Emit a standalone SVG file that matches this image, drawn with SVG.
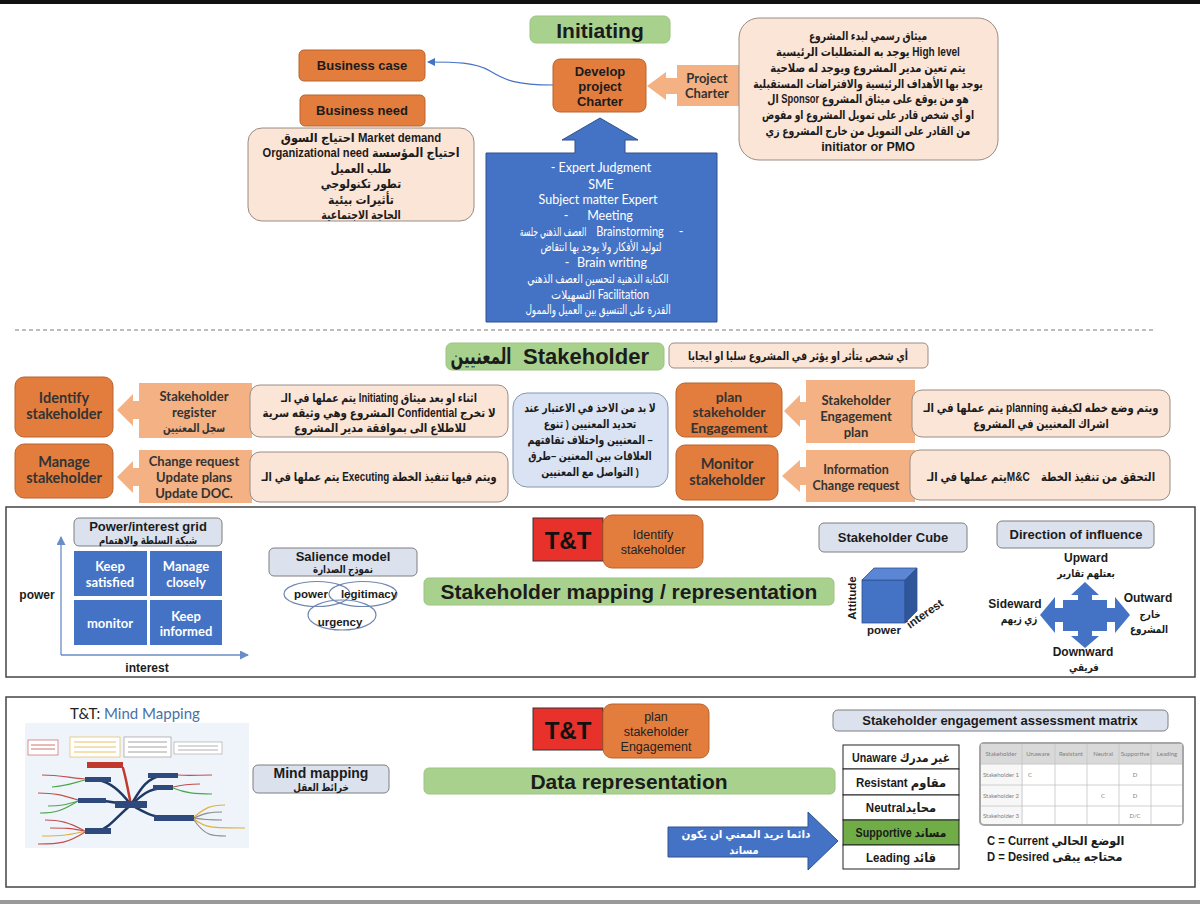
<svg xmlns="http://www.w3.org/2000/svg" width="1200" height="904" viewBox="0 0 1200 904">
<defs>
<style>
.a{font-family:"Liberation Sans","DejaVu Sans",sans-serif;font-weight:bold;text-anchor:middle;fill:#1b1b1b}
.l{font-family:Lato,"Liberation Sans","DejaVu Sans",sans-serif;font-weight:bold;text-anchor:middle;fill:#333}
.n{font-family:"Liberation Sans","DejaVu Sans",sans-serif;text-anchor:middle;fill:#222}
.wt{font-family:Lato,"Liberation Sans","DejaVu Sans",sans-serif;text-anchor:middle;fill:#fff;font-size:12.5px}
.or{fill:#E27D3E;stroke:#B9642C;stroke-width:1}
.pe{fill:#FBE5D6;stroke:#9A8C84;stroke-width:1}
.co{fill:#F4B183}
.gr{fill:#A9D18E;stroke:#9CC483;stroke-width:1}
.hd{fill:#DCE1EE;stroke:#7F7F7F;stroke-width:1}
.bl{fill:#4472C4;stroke:#2F528F;stroke-width:1}
.cell{fill:#4472C4}
.frame{fill:none;stroke:#444;stroke-width:1.5}
.red{fill:#E8312B;stroke:#333;stroke-width:1}
.ell{fill:none;stroke:#6F87B0;stroke-width:1.2}
.tb{font-family:Lato,"Liberation Sans",sans-serif;font-size:6px;fill:#7F7F7F;text-anchor:middle}
.mm{fill:none;stroke-width:2.5;stroke-linecap:round}
</style>
<marker id="ah" markerWidth="8" markerHeight="8" refX="7" refY="4" orient="auto" markerUnits="userSpaceOnUse">
<path d="M0,0 L8,4 L0,8 Z" fill="#4472C4"/>
</marker>
<marker id="ax" markerWidth="9" markerHeight="9" refX="8" refY="4.5" orient="auto" markerUnits="userSpaceOnUse">
<path d="M0,0 L9,4.5 L0,9 Z" fill="#6A8CC7"/>
</marker>
</defs>
<rect x="0" y="0" width="1200" height="904" fill="#fff"/>
<rect x="0" y="0" width="1200" height="4" fill="#111"/>

<!-- ===== Initiating section ===== -->
<g id="initiating">
<rect x="530" y="16" width="140" height="27" rx="6" class="gr"/>
<text x="600" y="38" class="a" font-size="21">Initiating</text>
</g>
<g id="business-case">
<rect x="299" y="50" width="126" height="31" rx="5" class="or"/>
<text x="362" y="70" class="a" font-size="13">Business case</text>
</g>
<g id="business-need">
<rect x="300" y="95" width="125" height="31" rx="5" class="or"/>
<text x="362" y="115" class="a" font-size="13">Business need</text>
</g>
<g id="business-need-details">
<rect x="248" y="128" width="226" height="93" rx="14" class="pe"/>
<g class="a" font-size="12.5">
<text transform="translate(361,142) scale(0.91,1)">احتياج السوق  Market demand</text>
<text transform="translate(361,157) scale(0.89,1)">Organizational need احتياج المؤسسة</text>
<text transform="translate(361,173) scale(0.82,1)">طلب العميل</text>
<text transform="translate(361,188) scale(0.85,1)">تطور تكنولوجي</text>
<text transform="translate(361,204) scale(0.88,1)">تأثيرات بيئية</text>
<text transform="translate(361,219) scale(0.76,1)">الحاجة الاجتماعية</text>
</g>
</g>
<g id="develop-charter">
<rect x="553" y="59" width="93" height="53" rx="7" class="or"/>
<g class="a" font-size="13">
<text x="600" y="76">Develop</text>
<text x="600" y="91">project</text>
<text x="600" y="106">Charter</text>
</g>
</g>
<g id="project-charter">
<path d="M745,65 H677 V78 H666 V72 L647,86 L666,100 V94 H677 V106 H745 Z" class="co"/>
<text x="707" y="83" class="l" font-size="13">Project</text>
<text x="707" y="98" class="l" font-size="13">Charter</text>
</g>
<g id="charter-notes">
<rect x="739" y="18" width="259" height="142" rx="20" class="pe"/>
<g class="a" font-size="12">
<text transform="translate(868,40) scale(0.76,1)">ميثاق رسمي لبدء المشروع</text>
<text transform="translate(868,56) scale(0.84,1)">يوجد به المتطلبات الرئيسية  High level</text>
<text transform="translate(868,72) scale(0.84,1)">يتم تعين مدير المشروع ويوجد له صلاحية</text>
<text transform="translate(868,88) scale(0.78,1)">يوجد بها الأهداف الرئيسية والافتراضات المستقبلية</text>
<text transform="translate(868,103) scale(0.78,1)">ال  Sponsor هو من يوقع على  ميثاق المشروع</text>
<text transform="translate(868,119) scale(0.76,1)">او أي شخص قادر على تمويل المشروع او مفوض</text>
<text transform="translate(868,135) scale(0.78,1)">من القادر على التمويل من خارج المشروع  زي</text>
<text x="868" y="151" font-size="12.5">initiator or PMO</text>
</g>
</g>
<g id="tools-techniques">
<path d="M486,153 H575 V140 H562 L600,118 L638,140 H625 V153 H717 V322 H486 Z" class="bl"/>
<text x="601" y="172" class="wt">- Expert Judgment</text>
<text x="601" y="189" class="wt">SME</text>
<text x="598" y="204" class="wt">Subject matter Expert</text>
<text x="566" y="220" class="wt">-</text>
<text x="610" y="220" class="wt">Meeting</text>
<text class="wt" transform="translate(553,236) scale(0.62,1)">العصف الذهني جلسة</text>
<text class="wt" transform="translate(630,236) scale(0.88,1)">Brainstorming</text>
<text x="681" y="236" class="wt">-</text>
<text class="wt" transform="translate(601,251) scale(0.74,1)">لتوليد الأفكار ولا يوجد بها انتقاض</text>
<text x="567" y="267" class="wt">-</text>
<text x="612" y="267" class="wt">Brain writing</text>
<text class="wt" transform="translate(598,283) scale(0.74,1)">الكتابة الذهنية لتحسين العصف الذهني</text>
<text class="wt" transform="translate(600,299) scale(0.86,1)">التسهيلات Facilitation</text>
<text class="wt" transform="translate(598,314) scale(0.71,1)">القدرة على التنسيق بين العميل والممول</text>
</g>

<g id="connectors">
<path d="M553,85 C515,85 505,80 490,71 C475,62 455,62 428,62" fill="none" stroke="#4472C4" stroke-width="1.2" marker-end="url(#ah)"/>
<line x1="15" y1="330" x2="1155" y2="330" stroke="#7a7a7a" stroke-width="1" stroke-dasharray="4,3"/>
</g>

<!-- ===== Stakeholder section ===== -->
<g id="stakeholder-title">
<rect x="446" y="343" width="218" height="27" rx="6" class="gr"/>
<text class="a" font-size="22" transform="translate(481,364) scale(0.68,1)">المعنيين</text>
<text x="586" y="364" class="a" font-size="22">Stakeholder</text>
</g>
<g id="stakeholder-definition">
<rect x="669" y="343" width="259" height="25" rx="5" class="pe"/>
<text class="a" font-size="11.5" transform="translate(798,360) scale(0.81,1)">أي شخص يتأثر او يؤثر في المشروع سلبا او ايجابا</text>
</g>
<g id="identify-stakeholder">
<rect x="15" y="377" width="98" height="60" rx="9" class="or"/>
<text x="64" y="403" class="l" font-size="14.5">Identify</text>
<text x="64" y="419" class="l" font-size="14.5">stakeholder</text>
</g>
<g id="stakeholder-register">
<path d="M252,383 H139 V401 H133 V394 L117,410 L133,426 V419 H139 V438 H252 Z" class="co"/>
<text x="194" y="401" class="l" font-size="13">Stakeholder</text>
<text x="194" y="417" class="l" font-size="13">register</text>
<text class="l" font-size="12" transform="translate(194,432) scale(0.75,1)">سجل المعنيين</text>
</g>
<g id="identify-note">
<rect x="250" y="385" width="258" height="52" rx="10" class="pe"/>
<g class="a" font-size="12">
<text transform="translate(379,402) scale(0.79,1)">يتم عملها في الـ  Initiating اثناء او بعد ميثاق</text>
<text transform="translate(379,417) scale(0.86,1)">المشروع وهي وثيقه سرية  Confidential لا تخرج</text>
<text transform="translate(380,432) scale(0.85,1)">للاطلاع الى بموافقة مدير المشروع</text>
</g>
</g>
<g id="manage-stakeholder">
<rect x="15" y="444" width="98" height="54" rx="9" class="or"/>
<text x="64" y="467" class="l" font-size="14.5">Manage</text>
<text x="64" y="483" class="l" font-size="14.5">stakeholder</text>
</g>
<g id="manage-outputs">
<path d="M252,450 H139 V468 H133 V461 L117,477 L133,493 V486 H139 V503 H252 Z" class="co"/>
<text x="194" y="466" class="l" font-size="13">Change request</text>
<text x="194" y="482" class="l" font-size="13">Update plans</text>
<text x="194" y="498" class="l" font-size="13">Update DOC.</text>
</g>
<g id="manage-note">
<rect x="250" y="452" width="258" height="50" rx="10" class="pe"/>
<text class="a" font-size="12" transform="translate(379,481) scale(0.82,1)">يتم عملها في الـ   Executing ويتم فيها تنفيذ الخطة</text>
</g>
<g id="consider-note">
<rect x="513" y="393" width="155" height="94" rx="14" fill="#DAE3F3" stroke="#8497B0" stroke-width="1"/>
<g class="a" font-size="11.5">
<text transform="translate(590,412) scale(0.81,1)">لا بد من الاخذ في الاعتبار عند</text>
<text transform="translate(590,428) scale(0.81,1)">تحديد المعنيين ( تنوع</text>
<text transform="translate(590,444) scale(0.81,1)">المعنيين واختلاف ثقافتهم –</text>
<text transform="translate(590,460) scale(0.81,1)">العلاقات بين المعنين –طرق</text>
<text transform="translate(590,476) scale(0.81,1)">التواصل مع المعنيين )</text>
</g>
</g>
<g id="plan-stakeholder-engagement">
<rect x="676" y="383" width="106" height="54" rx="9" class="or"/>
<text x="729" y="402" class="l" font-size="14">plan</text>
<text x="729" y="417" class="l" font-size="14">stakeholder</text>
<text x="729" y="433" class="l" font-size="14">Engagement</text>
</g>
<g id="engagement-plan">
<path d="M915,380 H806 V402 H800 V395 L784,411 L800,427 V420 H806 V443 H915 Z" class="co"/>
<text x="856" y="405" class="l" font-size="13">Stakeholder</text>
<text x="856" y="421" class="l" font-size="13">Engagement</text>
<text x="856" y="437" class="l" font-size="13">plan</text>
</g>
<g id="plan-note">
<rect x="912" y="390" width="258" height="47" rx="10" class="pe"/>
<g class="a" font-size="12">
<text transform="translate(1041,412) scale(0.84,1)">يتم عملها في الـ  planning ويتم وضع خطه لكيفية</text>
<text transform="translate(1041,428) scale(0.8,1)">اشراك المعنيين في المشروع</text>
</g>
</g>
<g id="monitor-stakeholder">
<rect x="676" y="445" width="102" height="55" rx="9" class="or"/>
<text x="727" y="469" class="l" font-size="14.5">Monitor</text>
<text x="727" y="485" class="l" font-size="14.5">stakeholder</text>
</g>
<g id="monitor-outputs">
<path d="M915,450 H806 V467 H800 V460 L782,476 L800,492 V485 H806 V502 H915 Z" class="co"/>
<text x="856" y="474" class="l" font-size="12.5">Information</text>
<text x="856" y="490" class="l" font-size="12.5">Change request</text>
</g>
<g id="monitor-note">
<rect x="910" y="450" width="260" height="50" rx="10" class="pe"/>
<text class="a" font-size="12" transform="translate(1041,481) scale(0.84,1)" style="white-space:pre">يتم عملها في الـM&amp;C    التحقق من تنفيذ الخطة</text>
</g>

<!-- ===== Stakeholder mapping section ===== -->
<rect x="6" y="507" width="1189" height="170" class="frame"/>
<g id="power-interest-grid">
<rect x="74" y="518" width="148" height="28" rx="5" class="hd"/>
<text x="148" y="531" class="a" font-size="13">Power/interest grid</text>
<text class="a" font-size="11" transform="translate(148,544) scale(0.78,1)">شبكة السلطة والاهتمام</text>
<rect x="74" y="551" width="73" height="45" class="cell"/>
<rect x="150" y="551" width="72" height="45" class="cell"/>
<rect x="74" y="600" width="73" height="45" class="cell"/>
<rect x="150" y="600" width="72" height="45" class="cell"/>
<g class="l" font-size="13" style="fill:#fff">
<text x="110" y="571">Keep</text>
<text x="110" y="587">satisfied</text>
<text x="186" y="571">Manage</text>
<text x="186" y="587">closely</text>
<text x="110" y="628">monitor</text>
<text x="186" y="621">Keep</text>
<text x="186" y="636">informed</text>
</g>
<line x1="61" y1="655" x2="61" y2="537" stroke="#6A8CC7" stroke-width="1.3" marker-end="url(#ax)"/>
<line x1="61" y1="655" x2="248" y2="655" stroke="#6A8CC7" stroke-width="1.3" marker-end="url(#ax)"/>
<text x="37" y="599" class="a" font-size="12">power</text>
<text x="147" y="672" class="a" font-size="12">interest</text>
</g>
<g id="salience-model">
<rect x="269" y="548" width="148" height="28" rx="5" class="hd"/>
<text x="343" y="561" class="a" font-size="13">Salience model</text>
<text class="a" font-size="11" transform="translate(343,573) scale(0.78,1)">نموذج الصدارة</text>
<ellipse cx="317" cy="594" rx="33" ry="12.5" class="ell"/>
<ellipse cx="363" cy="594" rx="34" ry="12.5" class="ell"/>
<ellipse cx="342" cy="615" rx="34" ry="15" class="ell"/>
<text x="311" y="598" class="a" font-size="11.5">power</text>
<text x="369" y="598" class="a" font-size="11.5">legitimacy</text>
<text x="340" y="626" class="a" font-size="11.5">urgency</text>
</g>
<g id="tt-identify">
<rect x="533" y="518" width="70" height="43" class="red"/>
<text x="568" y="549" class="a" font-size="24" style="fill:#111">T&amp;T</text>
<rect x="603" y="515" width="100" height="53" rx="9" class="or"/>
<text x="653" y="539" class="n" font-size="12.5">Identify</text>
<text x="653" y="554" class="n" font-size="12.5">stakeholder</text>
</g>
<g id="stakeholder-mapping">
<rect x="424" y="578" width="410" height="27" rx="5" class="gr"/>
<text x="629" y="599" class="a" font-size="21">Stakeholder mapping / representation</text>
</g>
<g id="stakeholder-cube">
<rect x="819" y="523" width="148" height="29" rx="5" class="hd"/>
<text x="893" y="542" class="a" font-size="13">Stakeholder Cube</text>
<rect x="862" y="580" width="43" height="43" fill="#4472C4" stroke="#2F528F" stroke-width="0.8"/>
<polygon points="862,580 874,568 917,568 905,580" fill="#5B86D6" stroke="#2F528F" stroke-width="0.8"/>
<polygon points="905,580 917,568 917,611 905,623" fill="#30569A" stroke="#2F528F" stroke-width="0.8"/>
<text transform="translate(856,598) rotate(-90)" class="a" font-size="11.5">Attitude</text>
<text x="884" y="634" class="a" font-size="11.5">power</text>
<text transform="translate(927,617) rotate(-35)" class="a" font-size="11.5">interest</text>
</g>
<g id="direction-of-influence">
<rect x="997" y="521" width="157" height="27" rx="5" class="hd"/>
<text x="1076" y="539" class="a" font-size="13">Direction of influence</text>
<path d="M1040,615 L1055,597 V608 H1063 V600 H1078 V595 H1071 L1085,582 L1099,595 H1092 V600 H1107 V608 H1115 V597 L1130,615 L1115,633 V622 H1107 V631 H1092 V636 H1099 L1085,648 L1071,636 H1078 V631 H1063 V622 H1055 V633 Z" fill="#4472C4"/>
<g class="a" font-size="12">
<text x="1086" y="562">Upward</text>
<text font-size="11" transform="translate(1086,577) scale(0.8,1)">بعتلهم تقارير</text>
<text x="1015" y="608">Sideward</text>
<text font-size="11" transform="translate(1019,623) scale(0.8,1)">زي زيهم</text>
<text x="1148" y="602">Outward</text>
<text font-size="11" transform="translate(1150,618) scale(0.8,1)">خارج</text>
<text font-size="11" transform="translate(1149,633) scale(0.8,1)">المشروع</text>
<text x="1083" y="656">Downward</text>
<text font-size="11" transform="translate(1084,671) scale(0.8,1)">فريقي</text>
</g>
</g>

<!-- ===== Data representation section ===== -->
<rect x="6" y="697" width="1189" height="190" class="frame"/>
<g id="mind-mapping-picture">
<text x="70" y="719" font-family="Lato,'Liberation Sans',sans-serif" font-size="15" fill="#222">T&amp;T: <tspan fill="#4A6FA5">Mind Mapping</tspan></text>
<rect x="25" y="723" width="224" height="125" fill="#EEF4FA"/>
<rect x="28" y="740" width="30" height="15" fill="#fff" stroke="#C0504D" stroke-width="0.6"/>
<rect x="70" y="737" width="50" height="20" fill="#fff" stroke="#E0B040" stroke-width="0.6"/>
<rect x="124" y="737" width="47" height="20" fill="#fff" stroke="#8C8C8C" stroke-width="0.6"/>
<rect x="174" y="742" width="48" height="12" fill="#fff" stroke="#A0A0A0" stroke-width="0.6"/>
<g stroke-width="0.8">
<line x1="31" y1="745" x2="55" y2="745" stroke="#C0504D"/><line x1="31" y1="749" x2="55" y2="749" stroke="#C0504D"/>
<line x1="74" y1="742" x2="116" y2="742" stroke="#E0B040"/><line x1="74" y1="747" x2="116" y2="747" stroke="#E0B040"/><line x1="74" y1="752" x2="116" y2="752" stroke="#E0B040"/>
<line x1="128" y1="742" x2="167" y2="742" stroke="#8C8C8C"/><line x1="128" y1="747" x2="167" y2="747" stroke="#8C8C8C"/><line x1="128" y1="752" x2="167" y2="752" stroke="#8C8C8C"/>
<line x1="178" y1="746" x2="218" y2="746" stroke="#A0A0A0"/><line x1="178" y1="750" x2="218" y2="750" stroke="#A0A0A0"/>
</g>
<path d="M131,805 C120,790 110,782 98,780" class="mm" stroke="#1F3864"/>
<path d="M131,805 C118,803 108,801 92,800" class="mm" stroke="#1F3864"/>
<path d="M131,805 C118,815 110,828 98,831" class="mm" stroke="#1F3864"/>
<path d="M131,805 C140,790 146,778 163,775" class="mm" stroke="#1F3864"/>
<path d="M131,805 C142,795 148,789 163,788" class="mm" stroke="#1F3864"/>
<path d="M131,805 C145,812 150,818 174,818" class="mm" stroke="#1F3864"/>
<path d="M131,805 C128,790 126,778 123,768" class="mm" stroke="#C0392B"/>
<rect x="87" y="762" width="36" height="6" fill="#C0392B"/>
<rect x="115" y="801" width="32" height="7" fill="#2E4A7D"/>
<rect x="85" y="777" width="26" height="5" fill="#2E4A7D"/>
<rect x="78" y="798" width="28" height="5" fill="#2E4A7D"/>
<rect x="85" y="828" width="26" height="6" fill="#2E4A7D"/>
<rect x="148" y="773" width="30" height="5" fill="#2E4A7D"/>
<rect x="153" y="785" width="20" height="5" fill="#2E4A7D"/>
<rect x="154" y="815" width="40" height="6" fill="#2E4A7D"/>
<g fill="none" stroke-width="1.2">
<path d="M85,779 C70,778 60,775 42,775" stroke="#C0504D"/>
<path d="M85,780 C70,784 66,786 52,787" stroke="#4CA64C"/>
<path d="M78,800 C62,795 55,793 38,793" stroke="#C0504D"/>
<path d="M78,801 C65,805 60,806 48,806" stroke="#4CA64C"/>
<path d="M78,801 C62,811 55,813 40,813" stroke="#4CA64C"/>
<path d="M85,831 C68,822 60,820 45,820" stroke="#C0504D"/>
<path d="M85,831 C70,828 65,828 50,828" stroke="#C0504D"/>
<path d="M85,831 C70,835 62,836 42,836" stroke="#E0B040"/>
<path d="M85,832 C68,843 60,844 38,844" stroke="#C0504D"/>
<path d="M178,775 C190,776 198,775 212,775" stroke="#C0504D"/>
<path d="M173,787 C185,784 190,784 200,784" stroke="#C0504D"/>
<path d="M173,788 C185,793 195,794 212,794" stroke="#4CA64C"/>
<path d="M194,817 C205,808 210,805 225,805" stroke="#E0B040"/>
<path d="M194,818 C205,813 210,812 222,812" stroke="#8C8C8C"/>
<path d="M194,818 C205,820 212,820 222,820" stroke="#8C8C8C"/>
<path d="M194,819 C205,828 212,828 245,828" stroke="#E0B040"/>
<path d="M194,820 C205,836 212,836 226,836" stroke="#8C8C8C"/>
</g>
</g>
<g id="mind-mapping">
<rect x="253" y="765" width="136" height="28" rx="5" class="hd"/>
<text x="321" y="778" class="a" font-size="14">Mind mapping</text>
<text class="a" font-size="11" transform="translate(321,791) scale(0.8,1)">خرائط العقل</text>
</g>
<g id="tt-plan">
<rect x="533" y="708" width="70" height="42" class="red"/>
<text x="568" y="739" class="a" font-size="24" style="fill:#111">T&amp;T</text>
<rect x="603" y="704" width="106" height="54" rx="9" class="or"/>
<text x="656" y="721" class="n" font-size="12.5">plan</text>
<text x="656" y="736" class="n" font-size="12.5">stakeholder</text>
<text x="656" y="751" class="n" font-size="12.5">Engagement</text>
</g>
<g id="data-representation">
<rect x="424" y="768" width="411" height="26" rx="5" class="gr"/>
<text x="629" y="789" class="a" font-size="21">Data representation</text>
</g>
<g id="supportive-arrow">
<path d="M668,827 H808 V812 L838,841 L808,870 V857 H668 Z" class="bl"/>
<text class="a" font-size="11" style="fill:#fff" transform="translate(746,838) scale(0.95,1)">دائما نريد المعني ان يكون</text>
<text class="a" font-size="11" style="fill:#fff" transform="translate(744,854) scale(0.9,1)">مساند</text>
</g>
<g id="engagement-matrix-title">
<rect x="833" y="710" width="335" height="21" rx="5" class="hd"/>
<text x="1000" y="725" class="a" font-size="13">Stakeholder engagement assessment matrix</text>
</g>
<g id="engagement-levels">
<rect x="843" y="745" width="116" height="24" fill="#fff" stroke="#222" stroke-width="1"/>
<rect x="843" y="769" width="116" height="26" fill="#fff" stroke="#222" stroke-width="1"/>
<rect x="843" y="795" width="116" height="25" fill="#fff" stroke="#222" stroke-width="1"/>
<rect x="843" y="820" width="116" height="25" fill="#70AD47" stroke="#222" stroke-width="1"/>
<rect x="843" y="845" width="116" height="24" fill="#fff" stroke="#222" stroke-width="1"/>
<g class="a" font-size="12.5">
<text transform="translate(901,762) scale(0.86,1)">Unaware غير مدرك</text>
<text transform="translate(901,787) scale(0.92,1)">Resistant مقاوم</text>
<text transform="translate(901,812) scale(0.92,1)">Neutralمحايد</text>
<text transform="translate(901,837) scale(0.86,1)">Supportive مساند</text>
<text transform="translate(901,862) scale(0.92,1)">Leading قائد</text>
</g>
</g>
<g id="assessment-table">
<rect x="980" y="743" width="203" height="82" rx="4" fill="#F7F7F7" stroke="#A6A6A6" stroke-width="2"/>
<rect x="981" y="744" width="201" height="20" fill="#D9D9D9"/>
<rect x="1023" y="765" width="159" height="59" fill="#fff"/>
<g stroke="#C4C4C4" stroke-width="0.8">
<line x1="1022" y1="744" x2="1022" y2="824"/><line x1="1055" y1="744" x2="1055" y2="824"/><line x1="1087" y1="744" x2="1087" y2="824"/><line x1="1119" y1="744" x2="1119" y2="824"/><line x1="1151" y1="744" x2="1151" y2="824"/>
<line x1="981" y1="764" x2="1182" y2="764"/><line x1="981" y1="785" x2="1182" y2="785"/><line x1="981" y1="806" x2="1182" y2="806"/>
</g>
<g class="tb">
<text x="1001" y="756">Stakeholder</text><text x="1038" y="756">Unaware</text><text x="1071" y="756">Resistant</text><text x="1103" y="756">Neutral</text><text x="1135" y="756">Supportive</text><text x="1167" y="756">Leading</text>
<text x="1001" y="777">Stakeholder 1</text><text x="1030" y="777">C</text><text x="1135" y="777">D</text>
<text x="1001" y="798">Stakeholder 2</text><text x="1103" y="798">C</text><text x="1135" y="798">D</text>
<text x="1001" y="818">Stakeholder 3</text><text x="1135" y="818">D/C</text>
</g>
<text class="a" font-size="12.5" style="text-anchor:start" transform="translate(987,845) scale(0.9,1)">C = Current  الوضع الحالي</text>
<text class="a" font-size="12.5" style="text-anchor:start" transform="translate(987,861) scale(0.9,1)">D = Desired  محتاجه يبقى</text>
</g>
<rect x="0" y="900" width="1200" height="4" fill="#9a9a9a"/>
</svg>
